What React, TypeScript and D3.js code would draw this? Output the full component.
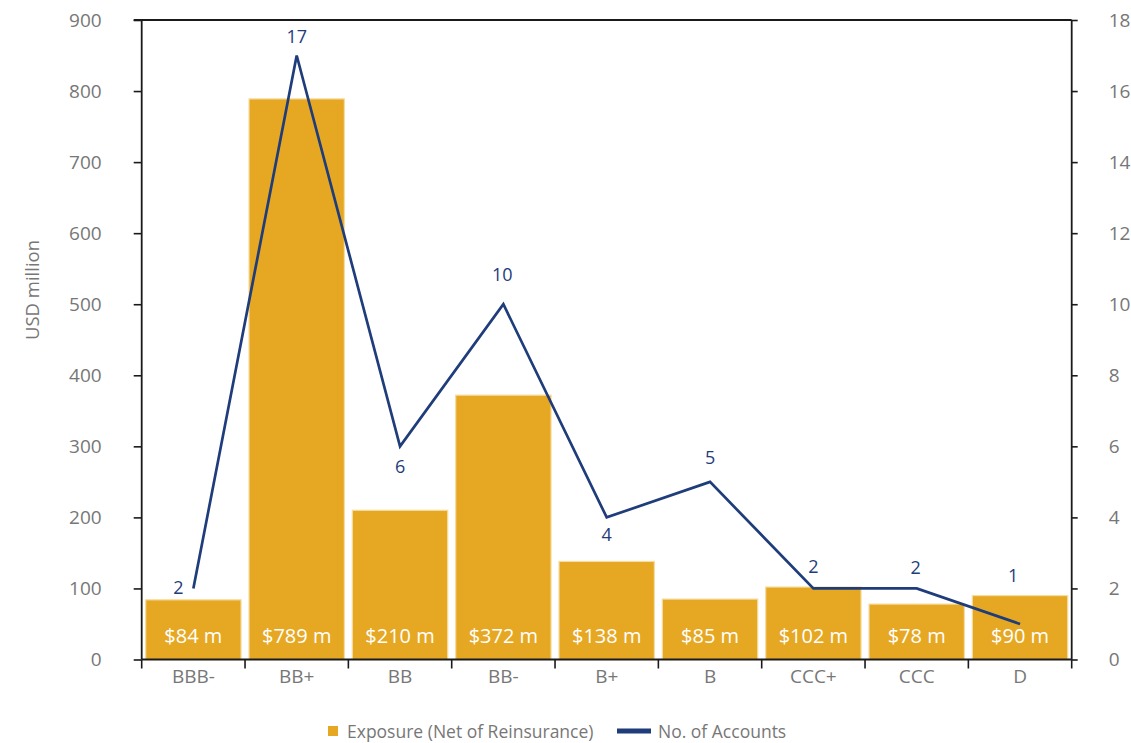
import React, { useEffect, useRef } from "react";
import * as d3 from "d3";

const categories = ["BBB-", "BB+", "BB", "BB-", "B+", "B", "CCC+", "CCC", "D"];
const exposure = [84, 789, 210, 372, 138, 85, 102, 78, 90];
const exposureLabels = ["$84 m", "$789 m", "$210 m", "$372 m", "$138 m", "$85 m", "$102 m", "$78 m", "$90 m"];
const accounts = [2, 17, 6, 10, 4, 5, 2, 2, 1];
const leftTicks = [0, 100, 200, 300, 400, 500, 600, 700, 800, 900];
const rightTicks = [0, 2, 4, 6, 8, 10, 12, 14, 16, 18];
const legendLabels = ["Exposure (Net of Reinsurance)", "No. of Accounts"];
const yTitle = "USD million";

// label offsets (style, not data)
const lineLabelOffsets: [number, number][] = [
  [-15, -1], [0, -19], [0, 20], [-1, -30], [0, 17], [0, -24], [0, -22], [-1, -21], [-7, -48],
];

const W = 1131;
const H = 743;
const FONT = "'Open Sans', 'Noto Sans', sans-serif";
const BAR = "#E6A823";
const NAVY = "#1F3C7B";
const GREY = "#777777";

export default function App() {
  const ref = useRef<SVGSVGElement>(null);
  useEffect(() => {
    const svg = d3.select(ref.current);
    svg.selectAll("*").remove();
    const left = 141.7, right = 1071.7, top = 20, bottom = 659.5;

    const x = d3.scaleBand<string>().domain(categories).range([left, right]).padding(0);
    const xb = d3.scaleBand<string>().domain(categories).range([left, right]).paddingInner(0.077).paddingOuter(0.0385);
    const yL = d3.scaleLinear().domain([0, 900]).range([bottom, top]);
    const yR = d3.scaleLinear().domain([0, 18]).range([bottom, top]);

    // bars
    const g = svg.append("g");
    g.selectAll("rect.bar").data(categories).enter().append("rect")
      .attr("x", (c) => xb(c)!)
      .attr("width", xb.bandwidth())
      .attr("y", (_c, i) => yL(exposure[i]))
      .attr("height", (_c, i) => bottom - yL(exposure[i]))
      .attr("fill", BAR)
      .attr("stroke", "#F6DC9F")
      .attr("stroke-width", 1.2);

    g.selectAll("text.bl").data(categories).enter().append("text")
      .attr("x", (c) => x(c)! + x.bandwidth() / 2)
      .attr("y", 643)
      .attr("text-anchor", "middle")
      .attr("fill", "#ffffff")
      .attr("font-family", FONT)
      .attr("font-size", 20)
      .text((_c, i) => exposureLabels[i]);

    // line
    const line = d3.line<number>()
      .x((_d, i) => x(categories[i])! + x.bandwidth() / 2)
      .y((d) => yR(d));
    g.append("path").datum(accounts)
      .attr("d", line)
      .attr("fill", "none")
      .attr("stroke", NAVY)
      .attr("stroke-width", 2.7)
      .attr("stroke-linejoin", "miter");

    g.selectAll("text.ll").data(accounts).enter().append("text")
      .attr("x", (_d, i) => x(categories[i])! + x.bandwidth() / 2 + lineLabelOffsets[i][0])
      .attr("y", (d, i) => yR(d) + lineLabelOffsets[i][1])
      .attr("dy", "0.35em")
      .attr("text-anchor", "middle")
      .attr("fill", NAVY)
      .attr("font-family", FONT)
      .attr("font-size", 18)
      .text((d) => String(d));

    // left axis
    const la = svg.append("g").attr("transform", `translate(${left},0)`)
      .call(d3.axisLeft(yL).tickValues(leftTicks).tickSize(8).tickPadding(32).tickSizeOuter(0));
    la.select(".domain").remove();
    // right axis
    const ra = svg.append("g").attr("transform", `translate(${right},0)`)
      .call(d3.axisRight(yR).tickValues(rightTicks).tickSize(6).tickPadding(31).tickSizeOuter(0));
    ra.select(".domain").remove();
    [la, ra].forEach((a) => {
      a.selectAll("line").attr("stroke", "#1a1a1a").attr("stroke-width", 1.6);
      a.selectAll("text").attr("fill", GREY).attr("font-family", FONT).attr("font-size", 19);
    });

    // frame lines
    const fr = svg.append("g").attr("stroke", "#1a1a1a").attr("stroke-width", 1.8);
    fr.append("line").attr("x1", left).attr("x2", left).attr("y1", top).attr("y2", bottom);
    fr.append("line").attr("x1", right).attr("x2", right).attr("y1", top).attr("y2", bottom);
    fr.append("line").attr("x1", left - 8).attr("x2", right).attr("y1", top).attr("y2", top);
    fr.append("line").attr("x1", left).attr("x2", right).attr("y1", bottom).attr("y2", bottom);
    const bounds = categories.map((c) => x(c)!).concat([right]);
    fr.selectAll("line.bt").data(bounds).enter().append("line")
      .attr("x1", (d) => d).attr("x2", (d) => d)
      .attr("y1", bottom).attr("y2", bottom + 9)
      .attr("stroke-width", 1.6);

    svg.append("g").selectAll("text").data(categories).enter().append("text")
      .attr("x", (c) => x(c)! + x.bandwidth() / 2)
      .attr("y", 683)
      .attr("text-anchor", "middle")
      .attr("fill", GREY)
      .attr("font-family", FONT)
      .attr("font-size", 19)
      .text((c) => c);

    // y title
    svg.append("text")
      .attr("transform", `translate(39,290) rotate(-90)`)
      .attr("text-anchor", "middle")
      .attr("fill", GREY)
      .attr("font-family", FONT)
      .attr("font-size", 18.5)
      .text(yTitle);

    // legend
    const lg = svg.append("g");
    lg.append("rect").attr("x", 328).attr("y", 726).attr("width", 10).attr("height", 10).attr("fill", BAR);
    lg.append("text").attr("x", 347).attr("y", 738).attr("fill", GREY).attr("font-family", FONT).attr("font-size", 17.5).text(legendLabels[0]);
    lg.append("line").attr("x1", 617).attr("x2", 651).attr("y1", 731).attr("y2", 731).attr("stroke", NAVY).attr("stroke-width", 5);
    lg.append("text").attr("x", 658).attr("y", 738).attr("fill", GREY).attr("font-family", FONT).attr("font-size", 17.5).text(legendLabels[1]);
  }, []);

  return (
    <svg ref={ref} width={W} height={H}
      style={{ position: "fixed", left: 0, top: 0, background: "#ffffff", display: "block" }} />
  );
}
